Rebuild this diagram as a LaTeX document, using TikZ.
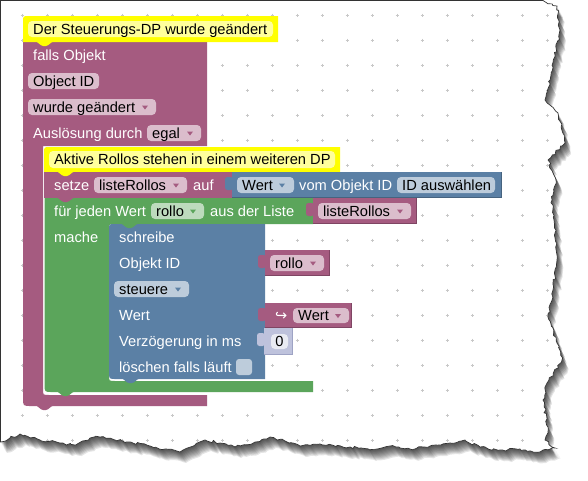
\documentclass[tikz,border=0pt]{standalone}
\usepackage{fontspec}
\setmainfont{Liberation Sans}
\newfontfamily\dejavufont{DejaVu Sans}
\usetikzlibrary{decorations.pathmorphing}

\definecolor{purp}{HTML}{A55B80}
\definecolor{purpd}{HTML}{7F4563}
\definecolor{purpl}{HTML}{DBBDCC}
\definecolor{grn}{HTML}{5BA55B}
\definecolor{grnl}{HTML}{BDDBBD}
\definecolor{blu}{HTML}{5B80A5}
\definecolor{blud}{HTML}{46637F}
\definecolor{blul}{HTML}{BDCCDB}
\definecolor{yel}{HTML}{FFFF00}
\definecolor{yell}{HTML}{FFFF9C}
\definecolor{numc}{HTML}{BEC2DC}
\definecolor{numd}{HTML}{9EA3C4}
\definecolor{numl}{HTML}{E9EBF3}
\definecolor{dotc}{HTML}{C8C8C8}
\definecolor{edgec}{HTML}{333333}

\newcommand\paperpath{(0.5,0.5) -- (543,0.5) decorate[decoration={random steps,segment length=3,amplitude=1.3}]{ -- (557,6) -- (560,30) -- (553,67) -- (545,100) -- (558,113) -- (565,143) -- (548,160) -- (556,180) -- (552,200) -- (555,233) -- (557,260) -- (553,290) -- (548,317) -- (557,343) -- (562,360) -- (547,383) -- (543,400) -- (548,427) -- (545,440) -- (555,448) -- (540,452) -- (520,449) -- (500,450) -- (480,447) -- (465,440) -- (450,443) -- (430,446) -- (410,449) -- (390,446) -- (370,450) -- (350,447) -- (320,444) -- (300,446) -- (285,441) -- (270,437) -- (255,442) -- (235,447) -- (220,443) -- (205,440) -- (195,445) -- (180,452) -- (165,449) -- (150,446) -- (130,442) -- (115,440) -- (100,437) -- (90,438) -- (75,445) -- (60,443) -- (40,440) -- (20,434) -- (10,438) -- (0.5,442)} -- cycle}

% pill: colour, x0, y0, x1, y1
\newcommand\bpill[5]{\fill[#1,rounded corners=4] (#2,#3) rectangle (#4,#5);}
% dropdown arrow: colour, x, y
\newcommand\barrow[3]{\fill[#1] ({#2-3},{#3-1.5}) -- ({#2+3},{#3-1.5}) -- (#2,{#3+2.5}) -- cycle;}
% statement tab: colour, x, y
\newcommand\bnotch[3]{\fill[#1,rounded corners=1.2] (#2,{#3-0.6}) -- (#2,#3) -- ({#2+5},{#3+4}) -- ({#2+10},{#3+4}) -- ({#2+15},#3) -- ({#2+15},{#3-0.6}) -- cycle;}
% value block: colour, dark colour, x0, y0, x1, y1
\newcommand\bval[6]{%
  \fill[#1,rounded corners=2.5] ({#3-7},{#4+5}) rectangle ({#3+1},{#4+18});
  \fill[#1] (#3,#4) rectangle (#5,#6);
  \draw[#2,line width=0.8] (#3,{#6-0.4}) -- ({#5-0.4},{#6-0.4}) -- ({#5-0.4},#4);}

\tikzset{
  wtxt/.style={inner sep=0pt, anchor=base west, text=white, font=\fontsize{14.67}{17}\selectfont},
  btxt/.style={wtxt, text=black},
}

\begin{document}
\begin{tikzpicture}[x=1pt,y=-1pt]
\useasboundingbox (0,0) rectangle (588,480);

% shadow of the torn paper
\foreach \k in {1,...,10}{
  \begin{scope}[shift={(0.6*\k,1.1*\k)}]
    \pgfmathsetseed{17}
    \fill[black,opacity=0.1] \paperpath;
  \end{scope}
}
% paper
\pgfmathsetseed{17}
\fill[white] \paperpath;

% grid dots
\begin{scope}
  \pgfmathsetseed{17}
  \clip \paperpath;
  \foreach \i in {0,...,21}{
    \foreach \j in {0,...,17}{
      \draw[dotc,line width=0.7] ({22+25*\i-1.5},{15+25*\j}) -- ++(3,0)
                                  ({22+25*\i},{15+25*\j-1.5}) -- ++(0,3);
    }
  }
\end{scope}

\pgfmathsetseed{17}
\draw[edgec,line width=0.7] \paperpath;

% ---------- purple C block ----------
\fill[purp] (23,42) -- (207,42) -- (207,146) -- (43,146) -- (43,389)
  .. controls (43,395) .. (49,395) -- (207,395) -- (207,406) -- (31,406)
  .. controls (23,406) .. (23,398) -- cycle;

% yellow header
\fill[yel] (23,42) -- (23,22) .. controls (23,16) .. (29,16) -- (278,16) -- (278,42) -- cycle;
\fill[yell,rounded corners=4] (28,21) rectangle (273,37);

% yellow comment 2
\fill[yel] (44,172) -- (44,153) .. controls (44,147) .. (50,147) -- (340,147) -- (340,172) -- cycle;
\fill[yell,rounded corners=4] (49,151) rectangle (335,168);

% setze block
\fill[purp] (44,172) rectangle (232,198);
\bval{blu}{blud}{232}{172}{502}{198}

% green C block
\fill[grn] (44.5,198) -- (313,198) -- (313,224) -- (115,224) .. controls (109,224) .. (109,230)
  -- (109,375) .. controls (109,381) .. (115,381) -- (313,381) -- (313,392) -- (52,392)
  .. controls (44.5,392) .. (44.5,384) -- cycle;
\bval{purp}{purpd}{313}{198}{417}{224}

% blue schreibe block
\fill[blu] (115,224) -- (265,224) -- (265,379) -- (116,379) .. controls (109,379) .. (109,372)
  -- (109,230) .. controls (109,224) .. (115,224) -- cycle;
\bval{purp}{purpd}{265}{250}{330}{276}
\bval{purp}{purpd}{265}{303}{352}{328}
\bval{numc}{numd}{264}{328}{293}{355}

% statement tabs
\bnotch{yel}{37}{42}
\bnotch{yel}{58}{172}
\bnotch{purp}{58}{198}
\bnotch{grn}{122}{224}
\bnotch{blu}{123}{379}
\bnotch{grn}{58}{392}
\bnotch{purp}{37}{406}

% pills
\bpill{purpl}{28}{73}{99}{89}
\bpill{purpl}{28}{99}{156}{115}   \barrow{purp}{145}{107}
\bpill{purpl}{147}{125}{201}{141} \barrow{purp}{190}{133}
\bpill{purpl}{94}{177}{187}{193}  \barrow{purp}{176}{185}
\bpill{blul}{237}{177}{294}{193}  \barrow{blu}{282}{185}
\bpill{blul}{397}{177}{495}{193}
\bpill{grnl}{151}{203}{204}{219}  \barrow{grn}{193}{211}
\bpill{purpl}{318}{203}{411}{219} \barrow{purp}{400}{211}
\bpill{purpl}{270}{255}{324}{271} \barrow{purp}{313}{263}
\bpill{blul}{114}{281}{189}{297}  \barrow{blu}{178}{289}
\bpill{purpl}{293}{308}{349}{323} \barrow{purp}{338}{315.5}
\bpill{numl}{271}{334}{288}{349}
\fill[blul,rounded corners=3] (236,359) rectangle (252,375);

% texts
\node[btxt] (h1) at (33,34.5) {Der Steuerungs-DP wurde geändert};
\node[wtxt] (t1) at (33,60) {falls Objekt};
\node[btxt] (t2) at (33,86) {Object ID};
\node[btxt] (t3) at (33,112) {wurde geändert};
\node[wtxt] (t4) at (33,138) {Auslösung durch};
\node[btxt] (t5) at (152,138) {egal};
\node[btxt] (h2) at (54,164) {Aktive Rollos stehen in einem weiteren DP};
\node[wtxt] (t6) at (54,190) {setze};
\node[btxt] (t7) at (99,190) {listeRollos};
\node[wtxt] (t8) at (193,190) {auf};
\node[btxt] (t9) at (242,190) {Wert};
\node[wtxt] (t10) at (299,190) {vom Objekt ID};
\node[btxt] (t11) at (402,190) {ID auswählen};
\node[wtxt] (t12) at (54,216) {für jeden Wert};
\node[btxt] (t13) at (156,216) {rollo};
\node[wtxt] (t14) at (210,216) {aus der Liste};
\node[btxt] (t15) at (323,216) {listeRollos};
\node[wtxt] (t16) at (54,242) {mache};
\node[wtxt] (t17) at (119,242) {schreibe};
\node[wtxt] (t18) at (119,268) {Objekt ID};
\node[btxt] (t19) at (275,268) {rollo};
\node[btxt] (t20) at (119,294) {steuere};
\node[wtxt] (t21) at (119,320) {Wert};
\node[wtxt, font=\dejavufont\fontsize{14.5}{16}\selectfont] (t22) at (275,320) {↪};
\node[btxt] (t23) at (298,320) {Wert};
\node[wtxt] (t24) at (119,346) {Verzögerung in ms};
\node[btxt, anchor=base] (t25) at (279.5,346) {0};
\node[wtxt] (t26) at (119,372) {löschen falls läuft};
\end{tikzpicture}
\end{document}
